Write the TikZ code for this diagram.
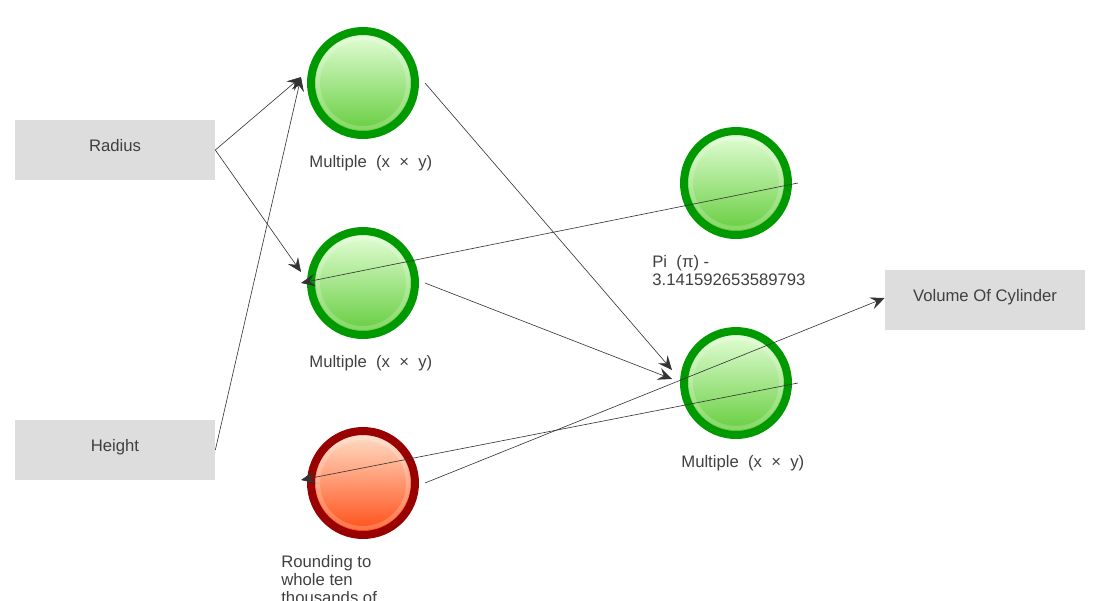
\documentclass[tikz,border=0pt]{standalone}
\usepackage{fontspec}
\setmainfont{Liberation Sans}
\usetikzlibrary{arrows.meta}
\usetikzlibrary{positioning}

\definecolor{boxgray}{HTML}{DDDDDD}
\definecolor{ringgreen}{HTML}{009900}
\definecolor{ringred}{HTML}{990000}
\definecolor{balltop}{HTML}{E6FFDA}
\definecolor{ballbottom}{HTML}{62CC3A}
\definecolor{redtop}{HTML}{FFE2CC}
\definecolor{redbottom}{HTML}{FF4A12}
\definecolor{linegray}{HTML}{333333}
\definecolor{textgray}{HTML}{404040}

\tikzset{
    inbox/.style={rectangle, fill=boxgray, minimum width=4cm, minimum height=1.2cm,
        text height=7pt, text depth=5pt, text=textgray},
    ball/.style={circle, draw=ringgreen, line width=0.16cm, minimum size=2.08cm,
        outer sep=0.2cm, top color=balltop, bottom color=ballbottom,
        path picture={\draw[white, opacity=0.2, line width=0.08cm]
            (path picture bounding box.center) circle (0.9cm);}},
    redball/.style={ball, draw=ringred, top color=redtop, bottom color=redbottom},
    caption/.style={anchor=base west, inner sep=0pt, align=left, text=textgray},
    link/.style={draw=linegray, line width=0.35pt,
        -{Stealth[length=8pt, width=7pt, inset=3pt, fill=linegray]}}
}

\begin{document}
\begin{tikzpicture}[x=0.02cm, y=-0.02cm, font=\fontsize{9.5}{10.2}\selectfont]
    \useasboundingbox (0, 0) rectangle (1100, 600);

    \draw (115, 150) node[inbox] (radius) {Radius};
    \draw (115, 450) node[inbox] (height) {Height};
    \draw (985, 300) node[inbox] (volume) {Volume Of Cylinder};

    \draw (363, 83) node[ball] (mult1) {};
    \draw (363, 283) node[ball] (mult2) {};
    \draw (363, 483) node[redball] (round) {};
    \draw (736, 183) node[ball] (pi) {};
    \draw (736, 383) node[ball] (mult3) {};

    % captions sit on the baseline of their last line
    \foreach \name/\x/\y in {mult1/309/167, mult2/309/367, mult3/681/467}{
        \draw (\x, \y) node[caption] (cap\name) {Multiple \ (x \ × \ y)};
    }
    \draw (652, 285) node[caption] (cappi) {Pi \ (π) -\\3.141592653589793};
    \draw (281, 603) node[caption] (capround) {Rounding to\\whole ten\\thousands of};

    \draw[link] (radius.east) -- ([shift={(0,-6)}]mult1.west);
    \draw[link] (height.east) -- ([shift={(0,-6)}]mult1.west);
    \draw[link] (radius.east) -- ([shift={(0,-11)}]mult2.west);
    \draw[link] (pi.east) -- (mult2.west);
    \draw[link] (mult1.east) -- ([shift={(-2,-13)}]mult3.west);
    \draw[link] (mult2.east) -- ([shift={(-2,-4)}]mult3.west);
    \draw[link] (mult3.east) -- ([shift={(0,-3)}]round.west);
    \draw[link] (round.east) -- ([shift={(0,-2)}]volume.west);

\end{tikzpicture}
\end{document}
